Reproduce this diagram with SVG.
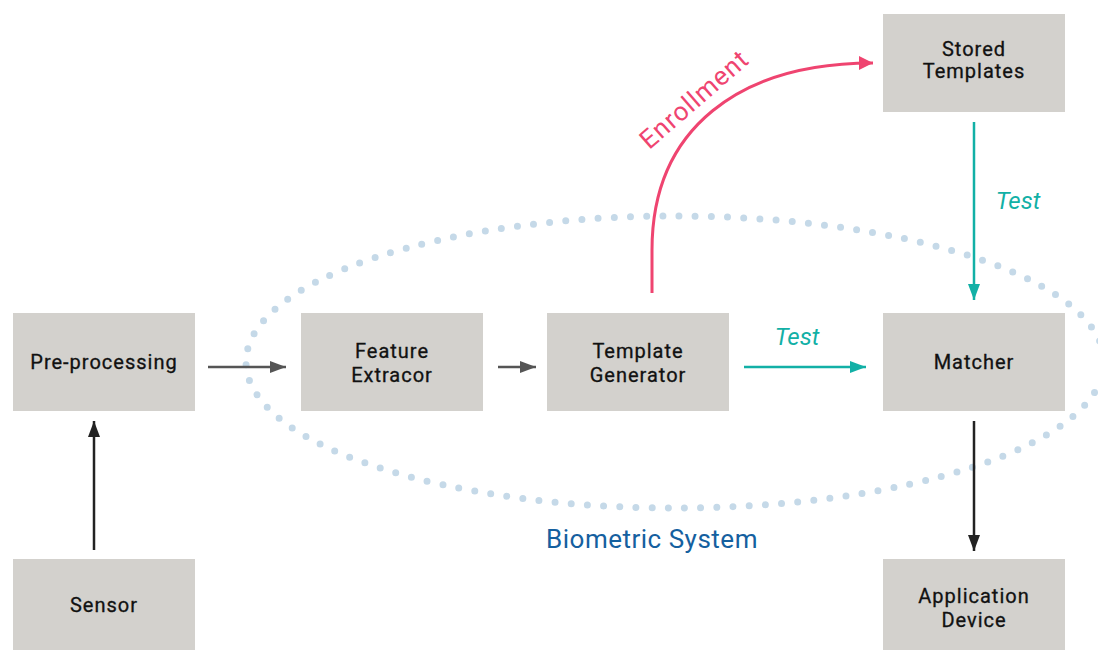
<svg xmlns="http://www.w3.org/2000/svg" width="1098" height="650" viewBox="0 0 1098 650">
<style>
.box{fill:#d3d1cd}
.lbl{font-family:Roboto,"Liberation Sans",sans-serif;font-size:20px;font-weight:400;fill:#111;text-anchor:middle;letter-spacing:1px;stroke:#111;stroke-width:0.3}
.gray{stroke:#555;stroke-width:2.5;fill:none}
.blk{stroke:#222;stroke-width:2.5;fill:none}
.teal{stroke:#12b0a6;stroke-width:2.5;fill:none}
.red{stroke:#ef4470;stroke-width:3;fill:none}
</style>
<defs>
<marker id="ag" markerWidth="16" markerHeight="12" refX="16" refY="6" orient="auto" markerUnits="userSpaceOnUse" viewBox="0 0 16 12"><path d="M0,0 L16,6 L0,12 Z" fill="#555"/></marker>
<marker id="ab" markerWidth="16" markerHeight="12" refX="16" refY="6" orient="auto" markerUnits="userSpaceOnUse" viewBox="0 0 16 12"><path d="M0,0 L16,6 L0,12 Z" fill="#222"/></marker>
<marker id="at" markerWidth="16" markerHeight="12" refX="16" refY="6" orient="auto" markerUnits="userSpaceOnUse" viewBox="0 0 16 12"><path d="M0,0 L16,6 L0,12 Z" fill="#12b0a6"/></marker>
<marker id="ar" markerWidth="14" markerHeight="14" refX="14" refY="7" orient="auto" markerUnits="userSpaceOnUse" viewBox="0 0 14 14"><path d="M0,0 L14,7 L0,14 Z" fill="#ef4470"/></marker>
</defs>
<rect width="1098" height="650" fill="#fff"/>
<g id="biometric-system">
<ellipse cx="675" cy="362" rx="429" ry="146" fill="none" stroke="#c5d9e8" stroke-width="7" stroke-linecap="round" stroke-dasharray="0 16.2"/>
<text x="652" y="548" font-family="Roboto,'Liberation Sans',sans-serif" font-size="26" fill="#15609f" text-anchor="middle" letter-spacing="0.5">Biometric System</text>
</g>
<g id="connectors">
<line class="gray" x1="208" y1="367" x2="286" y2="367" marker-end="url(#ag)"/>
<line class="gray" x1="498" y1="367" x2="536" y2="367" marker-end="url(#ag)"/>
<line class="teal" x1="744" y1="367" x2="866" y2="367" marker-end="url(#at)"/>
<text x="797" y="345" font-family="Roboto,'Liberation Sans',sans-serif" font-size="24" font-style="italic" fill="#12b0a6" text-anchor="middle">Test</text>
<line class="teal" x1="974" y1="122" x2="974" y2="300" marker-end="url(#at)"/>
<text x="1018" y="209" font-family="Roboto,'Liberation Sans',sans-serif" font-size="24" font-style="italic" fill="#12b0a6" text-anchor="middle">Test</text>
<line class="blk" x1="974" y1="421" x2="974" y2="551" marker-end="url(#ab)"/>
<line class="blk" x1="94" y1="550" x2="94" y2="421" marker-end="url(#ab)"/>
<path class="red" d="M652,293 V250 C652,128 740,63 873,63" marker-end="url(#ar)"/>
<text x="0" y="0" transform="translate(700,106) rotate(-41)" font-family="Roboto,'Liberation Sans',sans-serif" font-size="26" fill="#ef4470" text-anchor="middle" letter-spacing="1">Enrollment</text>
</g>
<g id="preprocessing"><rect class="box" x="13" y="313" width="182" height="98"/><text class="lbl" x="104" y="369">Pre-processing</text></g>
<g id="feature"><rect class="box" x="301" y="313" width="182" height="98"/><text class="lbl" x="392" y="358">Feature</text><text class="lbl" x="392" y="382">Extracor</text></g>
<g id="template"><rect class="box" x="547" y="313" width="182" height="98"/><text class="lbl" x="638" y="358">Template</text><text class="lbl" x="638" y="382">Generator</text></g>
<g id="matcher"><rect class="box" x="883" y="313" width="182" height="98"/><text class="lbl" x="974" y="369">Matcher</text></g>
<g id="stored"><rect class="box" x="883" y="14" width="182" height="98"/><text class="lbl" x="974" y="56">Stored</text><text class="lbl" x="974" y="78">Templates</text></g>
<g id="sensor"><rect class="box" x="13" y="559" width="182" height="91"/><text class="lbl" x="104" y="612">Sensor</text></g>
<g id="application"><rect class="box" x="883" y="559" width="182" height="91"/><text class="lbl" x="974" y="603">Application</text><text class="lbl" x="974" y="627">Device</text></g>
</svg>
